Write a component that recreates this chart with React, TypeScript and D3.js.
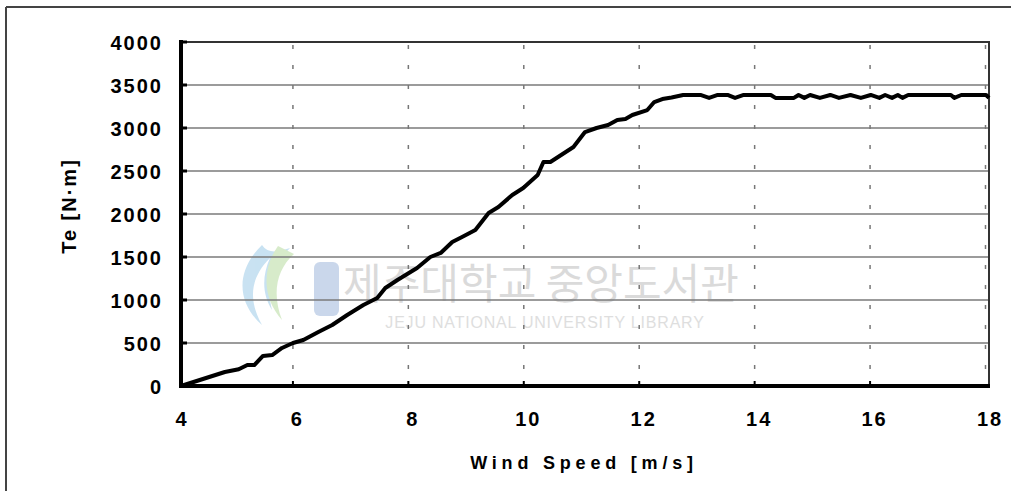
import React from "react";
import * as d3 from "d3";

const windSpeed = [
  4.0, 4.76, 5.0, 5.15, 5.27, 5.42, 5.58, 5.75, 5.94, 6.12, 6.38, 6.62, 6.88, 7.16, 7.4, 7.54, 7.75,
  8.09, 8.32, 8.5, 8.7, 8.87, 9.1, 9.33, 9.5, 9.74, 9.93, 10.18, 10.28, 10.4, 10.8, 11.0, 11.2, 11.4,
  11.56, 11.7, 11.82, 12.08, 12.2, 12.34, 12.5, 12.7, 13.0, 13.15, 13.3, 13.47, 13.6, 13.75, 14.22,
  14.3, 14.62, 14.7, 14.8, 14.9, 15.07, 15.25, 15.4, 15.6, 15.78, 15.95, 16.1, 16.2, 16.32, 16.42,
  16.5, 16.6, 17.34, 17.4, 17.52, 17.95, 18.0,
];
const torque = [
  0, 163, 195, 244, 244, 349, 360, 442, 500, 535, 628, 709, 826, 942, 1023, 1140, 1233,
  1372, 1500, 1547, 1674, 1733, 1814, 2012, 2081, 2221, 2302, 2453, 2605, 2605, 2779, 2953, 3000, 3035,
  3093, 3105, 3151, 3209, 3302, 3337, 3355, 3384, 3384, 3350, 3384, 3384, 3350, 3384, 3384,
  3350, 3350, 3384, 3350, 3384, 3350, 3384, 3350, 3384, 3350, 3384, 3350, 3384, 3350, 3384,
  3350, 3384, 3384, 3350, 3384, 3384, 3350,
];
const xTicks = [4, 6, 8, 10, 12, 14, 16, 18];
const yTicks = [0, 500, 1000, 1500, 2000, 2500, 3000, 3500, 4000];
const xTitle = "Wind Speed [m/s]";
const yTitle = "Te [N·m]";
const wmKorean = "제주대학교 중앙도서관";
const wmEnglish = "JEJU NATIONAL UNIVERSITY  LIBRARY";

export default function App() {
  const W = 1011, H = 491;
  const x = d3.scaleLinear().domain([4, 18]).range([181, 989]);
  const y = d3.scaleLinear().domain([0, 4000]).range([386, 42]);
  const pts = windSpeed.map((v, i) => [v, torque[i]] as [number, number]);
  const line = d3.line<[number, number]>().x(d => x(d[0])).y(d => y(d[1]));
  const font = "Arial, 'Liberation Sans', sans-serif";
  const gridOff = -3.5;

  return (
    <svg width={W} height={H} style={{ position: "absolute", left: 0, top: 0, background: "#fff" }}>
      <rect x={0} y={0} width={W} height={H} fill="#fff" />
      {/* outer frame */}
      <line x1={6} y1={7} x2={W + 2} y2={7} stroke="#444" strokeWidth={2} />
      <line x1={6} y1={7} x2={6} y2={H + 2} stroke="#444" strokeWidth={2} />

      {/* watermark */}
      <g opacity={0.55}>
        <path d="M262,245 C236,270 236,302 262,325 C248,300 250,278 270,258 C262,276 262,294 272,310 C266,288 272,266 290,248 C278,252 268,254 262,245 Z" fill="#9ccbe8" />
        <path d="M278,246 C262,268 262,298 282,320 C272,294 276,270 294,254 Z" fill="#b8dca0" />
        <rect x={314} y={262} width={25} height={54} rx={6} fill="#9fb8dc" />
        <text x={541} y={299} textAnchor="middle" fontFamily="'Noto Sans CJK KR', sans-serif" fontSize={42} fill="#bdbdbd">
          {wmKorean}
        </text>
        <text x={545} y={328} textAnchor="middle" fontFamily={font} fontSize={16} fill="#c4c4c4" letterSpacing={0.8}>
          {wmEnglish}
        </text>
      </g>

      {/* horizontal grid */}
      {yTicks.filter(t => t > 0).map(t => (
        <line key={"h" + t} x1={x(4)} x2={x(18)} y1={y(t)} y2={y(t)}
          stroke={t === 4000 ? "#333" : "#7a7a7a"} strokeWidth={t === 4000 ? 2 : 1.6} />
      ))}
      {/* vertical dashed grid */}
      {xTicks.filter(t => t > 4).map(t => (
        <line key={"v" + t} x1={x(t) + gridOff} x2={x(t) + gridOff} y1={y(4000)} y2={y(0)}
          stroke="#777" strokeWidth={1.5} strokeDasharray="4,16" strokeDashoffset={-3} />
      ))}
      {/* right border */}
      <line x1={x(18)} x2={x(18)} y1={y(4000) - 1} y2={y(0)} stroke="#333" strokeWidth={2} />

      {/* left tick marks */}
      {yTicks.map(t => (
        <line key={"yt" + t} x1={x(4)} x2={x(4) + 6} y1={y(t)} y2={y(t)} stroke="#000" strokeWidth={3} />
      ))}
      {/* bottom tick marks */}
      {xTicks.filter(t => t > 4 && t < 18).map(t => (
        <line key={"xt" + t} x1={x(t) + gridOff} x2={x(t) + gridOff} y1={y(0)} y2={y(0) - 5} stroke="#000" strokeWidth={2} />
      ))}

      {/* data line */}
      <path d={line(pts) || ""} fill="none" stroke="#000" strokeWidth={4} strokeLinejoin="round" />

      {/* axes */}
      <line x1={x(4)} x2={x(4)} y1={y(4000) - 2} y2={y(0) + 2} stroke="#000" strokeWidth={4} />
      <line x1={x(4) - 2} x2={x(18) + 1} y1={y(0)} y2={y(0)} stroke="#000" strokeWidth={4} />

      {/* y tick labels */}
      {yTicks.map(t => (
        <text key={"yl" + t} x={163} y={y(t) + 7.5} textAnchor="end" fontFamily={font} fontWeight="bold"
          fontSize={20} letterSpacing={2} fill="#000">
          {t}
        </text>
      ))}
      {/* x tick labels */}
      {xTicks.map(t => (
        <text key={"xl" + t} x={x(t) + 1} y={426} textAnchor="middle" fontFamily={font} fontWeight="bold"
          fontSize={20} letterSpacing={2} fill="#000">
          {t}
        </text>
      ))}

      {/* axis titles */}
      <text x={584} y={469} textAnchor="middle" fontFamily={font} fontWeight="bold" fontSize={18}
        letterSpacing={4.8} fill="#000">
        {xTitle}
      </text>
      <text transform="translate(76,206) rotate(-90)" textAnchor="middle" fontFamily={font} fontWeight="bold"
        fontSize={20} letterSpacing={2} fill="#000">
        {yTitle}
      </text>
    </svg>
  );
}
